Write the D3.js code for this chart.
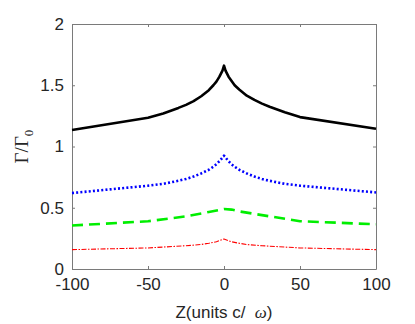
<!DOCTYPE html>
<html>
<head>
<meta charset="utf-8">
<script src="https://cdn.jsdelivr.net/npm/d3@7"></script>
<style>
  body { margin: 0; background: #fff; }
</style>
</head>
<body>
<div id="chart"></div>
<script>
// Dati
const zBlack = [-100, -50, -40, -30, -25, -20, -15, -10, -7, -5, -3, -1, 0, 1, 3, 5, 7, 10, 15, 20, 25, 30, 40, 50, 100];
const gBlack = [1.135, 1.235, 1.27, 1.315, 1.34, 1.37, 1.41, 1.46, 1.5, 1.53, 1.57, 1.62, 1.66, 1.62, 1.57, 1.535, 1.5, 1.465, 1.415, 1.38, 1.35, 1.325, 1.28, 1.24, 1.145];
const zBlue = [-100, -50, -40, -30, -25, -20, -15, -10, -7, -5, -3, -1, 0, 1, 3, 5, 7, 10, 15, 20, 25, 30, 40, 50, 100];
const gBlue = [0.62, 0.68, 0.695, 0.72, 0.735, 0.755, 0.78, 0.81, 0.835, 0.855, 0.88, 0.91, 0.925, 0.91, 0.88, 0.855, 0.835, 0.81, 0.78, 0.755, 0.735, 0.72, 0.695, 0.68, 0.625];
const zGreen = [-100, -50, -25, -10, 0, 5, 10, 25, 50, 100];
const gGreen = [0.355, 0.39, 0.43, 0.465, 0.49, 0.485, 0.47, 0.44, 0.39, 0.365];
const zRed = [-100, -50, -25, -15, -10, -5, 0, 5, 10, 15, 25, 50, 100];
const gRed = [0.158, 0.172, 0.19, 0.2, 0.21, 0.222, 0.245, 0.222, 0.21, 0.2, 0.19, 0.172, 0.158];

const xTicks = [-100, -50, 0, 50, 100];
const yTicks = [0, 0.5, 1, 1.5, 2];

const margin = { top: 24, right: 39, bottom: 55, left: 72 },
    width = 415 - margin.left - margin.right,
    height = 324 - margin.top - margin.bottom;

const svg = d3.select("#chart")
    .append("svg")
    .attr("width", 415)
    .attr("height", 324)
    .append("g")
    .attr("transform", "translate(" + margin.left + "," + margin.top + ")");

const x = d3.scaleLinear().domain([-100, 100]).range([0, width]);
const y = d3.scaleLinear().domain([0, 2]).range([height, 0]);

// Assi
const axisColor = "#7a7a7a";
const tickFont = "Liberation Sans, Arial, sans-serif";

svg.append("g")
    .attr("transform", "translate(0," + height + ")")
    .call(d3.axisBottom(x).tickValues(xTicks).tickFormat(d => String(d)).tickSizeInner(-3).tickSizeOuter(0).tickPadding(9));
svg.append("g")
    .call(d3.axisLeft(y).tickValues(yTicks).tickFormat(d => String(d)).tickSizeInner(-3).tickSizeOuter(0).tickPadding(8));
svg.append("g")
    .call(d3.axisTop(x).tickValues(xTicks).tickSizeInner(-3).tickSizeOuter(0).tickFormat(""));
svg.append("g")
    .attr("transform", "translate(" + width + ",0)")
    .call(d3.axisRight(y).tickValues(yTicks).tickSizeInner(-3).tickSizeOuter(0).tickFormat(""));

svg.selectAll(".domain").attr("stroke", axisColor);
svg.selectAll(".tick line").attr("stroke", axisColor);
svg.selectAll(".tick text")
    .attr("fill", "#262626")
    .style("font-family", tickFont)
    .style("font-size", "17px");

// Linee
function drawLine(zs, gs, color, w, dash) {
    const pts = zs.map((z, i) => [z, gs[i]]);
    svg.append("path")
        .datum(pts)
        .attr("fill", "none")
        .attr("stroke", color)
        .attr("stroke-width", w)
        .attr("stroke-dasharray", dash)
        .attr("stroke-linejoin", "round")
        .attr("d", d3.line().x(d => x(d[0])).y(d => y(d[1])));
}

drawLine(zBlack, gBlack, "#000000", 2.6, null);
drawLine(zBlue, gBlue, "#0000ff", 2.6, "2,2.2");
drawLine(zGreen, gGreen, "#00ee00", 2.6, "11,6");
drawLine(zRed, gRed, "#ff0000", 1.1, "5,1.5,1.5,1.5");

// Etichette
const xl = svg.append("text")
    .attr("x", width / 2)
    .attr("y", height + 49)
    .attr("text-anchor", "middle")
    .attr("fill", "#262626")
    .style("font-family", tickFont)
    .style("font-size", "17px");
xl.append("tspan").text("Z(units c/\u00a0\u00a0");
xl.append("tspan").style("font-family", "Liberation Serif, serif").style("font-style", "italic").text("\u03c9");
xl.append("tspan").text(")");

const yl = svg.append("text")
    .attr("transform", "translate(" + (-44) + "," + (height / 2) + ") rotate(-90)")
    .attr("text-anchor", "middle")
    .attr("fill", "#262626")
    .style("font-family", "Liberation Serif, serif")
    .style("font-size", "19px");
yl.append("tspan").text("\u0393/\u0393");
yl.append("tspan").attr("dy", 5).style("font-size", "13px").text("0");
</script>
</body>
</html>
